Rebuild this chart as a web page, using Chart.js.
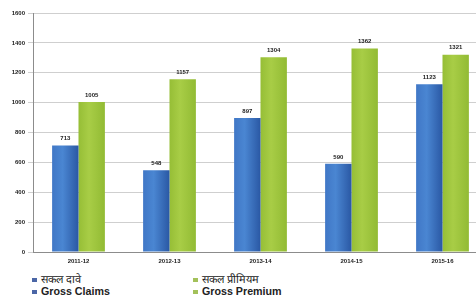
<!DOCTYPE html>
<html>
<head>
<meta charset="utf-8">
<script src="https://cdn.jsdelivr.net/npm/chart.js@4/dist/chart.umd.min.js"></script>
<style>
  body { margin: 0; background: #fff; overflow: hidden; width: 476px; height: 298px; position: relative; }
  #wrap { position: absolute; left: 0; top: 0; width: 490px; height: 270px; }
  .leg { position: absolute; font-family: "Liberation Sans", Arial, sans-serif; color: #222; white-space: nowrap; }
  .leg span.box { display: inline-block; width: 5px; height: 4px; margin-right: 4px; vertical-align: middle; }
  .hi { font-size: 11px; }
  .en { font-size: 10.7px; font-weight: bold; }
</style>
</head>
<body>
<div id="wrap"><canvas id="myChart"></canvas></div>
<div class="leg hi" style="left:32px; top:271px;"><span class="box" style="background:#4b66a6"></span>सकल दावे</div>
<div class="leg en" style="left:32px; top:285px;"><span class="box" style="background:#4b66a6"></span>Gross Claims</div>
<div class="leg hi" style="left:193px; top:271px;"><span class="box" style="background:#a3c15a"></span>सकल प्रीमियम</div>
<div class="leg en" style="left:193px; top:285px;"><span class="box" style="background:#a3c15a"></span>Gross Premium</div>
<script>
const years = ["2011-12", "2012-13", "2013-14", "2014-15", "2015-16"];
const grossClaims = [713, 548, 897, 590, 1123];
const grossPremium = [1005, 1157, 1304, 1362, 1321];
const yTicks = [0, 200, 400, 600, 800, 1000, 1200, 1400, 1600];

const tickFont = { family: "Liberation Sans", size: 6, weight: "bold" };

// shade each bar a little so it looks like the rounded bars of the original
const barShade = {
  id: "barShade",
  beforeDatasetsDraw: (chart) => {
    const c = chart.ctx;
    const shades = [
      ["#4077c6", "#4a86d2", "#2a58a4"],
      ["#96be36", "#a8cd46", "#92bb34"],
    ];
    chart.data.datasets.forEach((ds, i) => {
      chart.getDatasetMeta(i).data.forEach((el) => {
        const g = c.createLinearGradient(el.x - el.width / 2, 0, el.x + el.width / 2, 0);
        g.addColorStop(0, shades[i][0]);
        g.addColorStop(0.4, shades[i][1]);
        g.addColorStop(1, shades[i][2]);
        el.options = Object.assign({}, el.options, { backgroundColor: g });
      });
    });
  },
};

const valueLabels = {
  id: "valueLabels",
  afterDatasetsDraw: (chart) => {
    const c = chart.ctx;
    c.save();
    c.font = "bold 6px 'Liberation Sans'";
    c.fillStyle = "#222";
    c.textAlign = "center";
    c.textBaseline = "bottom";
    chart.data.datasets.forEach((ds, i) => {
      chart.getDatasetMeta(i).data.forEach((el, j) => {
        c.fillText(ds.data[j], el.x, el.y - 4);
      });
    });
    c.restore();
  },
};

new Chart(document.getElementById("myChart"), {
  type: "bar",
  data: {
    labels: years,
    datasets: [
      { label: "Gross Claims", data: grossClaims, backgroundColor: "#3b6fc2" },
      { label: "Gross Premium", data: grossPremium, backgroundColor: "#9cc43c" },
    ],
  },
  options: {
    responsive: true,
    maintainAspectRatio: false,
    animation: false,
    layout: { padding: { top: 13, right: 2, left: 0, bottom: 0 } },
    datasets: { bar: { barPercentage: 1, categoryPercentage: 0.58 } },
    plugins: { legend: { display: false }, tooltip: { enabled: false } },
    scales: {
      x: {
        grid: { display: false, drawTicks: false },
        border: { color: "#8c8c8c", width: 1 },
        ticks: { font: tickFont, color: "#222", padding: 6 },
        afterFit: (s) => { s.height = 18; },
      },
      y: {
        min: 0,
        max: 1600,
        afterBuildTicks: (s) => { s.ticks = yTicks.map((v) => ({ value: v })); },
        grid: { color: "#cfcfcf", tickLength: 5 },
        border: { color: "#8c8c8c", width: 1 },
        ticks: { font: tickFont, color: "#222", padding: 3, callback: (v) => String(v) },
        afterFit: (s) => { s.width = 33; },
      },
    },
  },
  plugins: [barShade, valueLabels],
});
</script>
</body>
</html>
